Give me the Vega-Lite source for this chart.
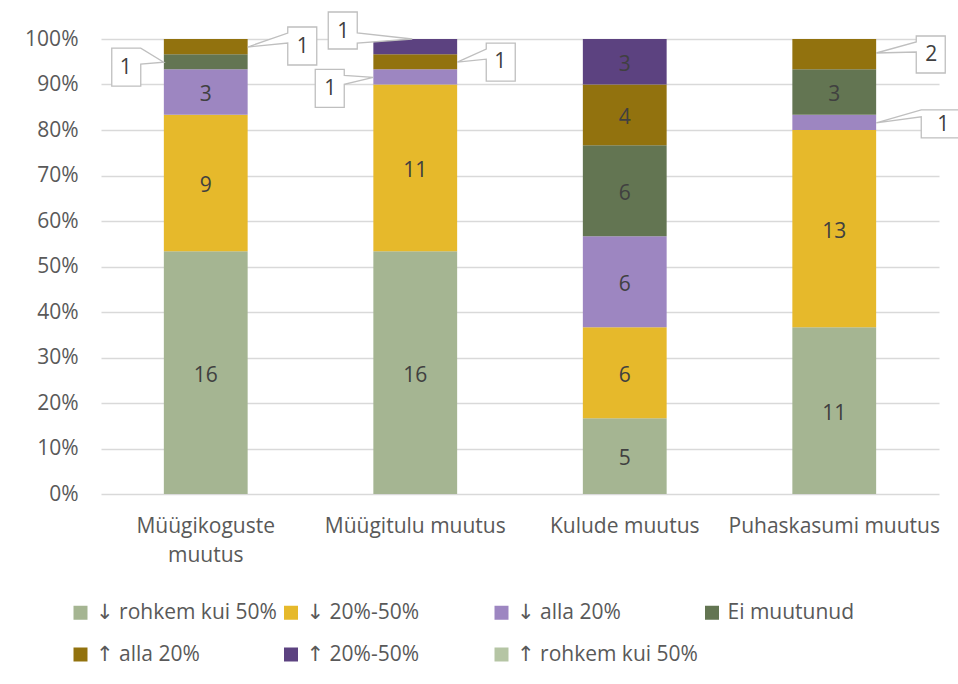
{
  "$schema": "https://vega.github.io/schema/vega-lite/v6.json",
  "width": 838,
  "height": 455,
  "autosize": {"type": "none"},
  "padding": {"left": 101, "top": 39, "right": 19, "bottom": 190},
  "background": "white",
  "config": {
    "font": "Open Sans",
    "view": {"stroke": null},
    "axisY": {
      "domain": false, "ticks": false, "grid": true, "gridColor": "#D9D9D9", "gridWidth": 1.3,
      "labelFontSize": 21, "labelColor": "#595959", "labelPadding": 23, "title": null
    }
  },
  "data": {
    "values": [
      {"cat": "Müügikoguste muutus", "series": "↓ rohkem kui 50%", "s": 1, "value": 16},
      {"cat": "Müügikoguste muutus", "series": "↓ 20%-50%", "s": 2, "value": 9},
      {"cat": "Müügikoguste muutus", "series": "↓ alla 20%", "s": 3, "value": 3},
      {"cat": "Müügikoguste muutus", "series": "Ei muutunud", "s": 4, "value": 1},
      {"cat": "Müügikoguste muutus", "series": "↑ alla 20%", "s": 5, "value": 1},
      {"cat": "Müügitulu muutus", "series": "↓ rohkem kui 50%", "s": 1, "value": 16},
      {"cat": "Müügitulu muutus", "series": "↓ 20%-50%", "s": 2, "value": 11},
      {"cat": "Müügitulu muutus", "series": "↓ alla 20%", "s": 3, "value": 1},
      {"cat": "Müügitulu muutus", "series": "↑ alla 20%", "s": 5, "value": 1},
      {"cat": "Müügitulu muutus", "series": "↑ 20%-50%", "s": 6, "value": 1},
      {"cat": "Kulude muutus", "series": "↓ rohkem kui 50%", "s": 1, "value": 5},
      {"cat": "Kulude muutus", "series": "↓ 20%-50%", "s": 2, "value": 6},
      {"cat": "Kulude muutus", "series": "↓ alla 20%", "s": 3, "value": 6},
      {"cat": "Kulude muutus", "series": "Ei muutunud", "s": 4, "value": 6},
      {"cat": "Kulude muutus", "series": "↑ alla 20%", "s": 5, "value": 4},
      {"cat": "Kulude muutus", "series": "↑ 20%-50%", "s": 6, "value": 3},
      {"cat": "Puhaskasumi muutus", "series": "↓ rohkem kui 50%", "s": 1, "value": 11},
      {"cat": "Puhaskasumi muutus", "series": "↓ 20%-50%", "s": 2, "value": 13},
      {"cat": "Puhaskasumi muutus", "series": "↓ alla 20%", "s": 3, "value": 1},
      {"cat": "Puhaskasumi muutus", "series": "Ei muutunud", "s": 4, "value": 3},
      {"cat": "Puhaskasumi muutus", "series": "↑ alla 20%", "s": 5, "value": 2}
    ]
  },
  "encoding": {
    "x": {
      "field": "cat", "type": "nominal",
      "sort": ["Müügikoguste muutus", "Müügitulu muutus", "Kulude muutus", "Puhaskasumi muutus"],
      "scale": {"paddingInner": 0.6, "paddingOuter": 0.3},
      "title": null,
      "axis": {
        "domain": false, "ticks": false, "labelAngle": 0, "labelPadding": 21,
        "labelFontSize": 21, "labelColor": "#595959", "labelLineHeight": 29, "labelLimit": 0,
        "labelBaseline": "top",
        "labelExpr": "datum.label == 'Müügikoguste muutus' ? ['Müügikoguste', 'muutus'] : datum.label"
      }
    }
  },
  "layer": [
    {
      "mark": {"type": "bar"},
      "encoding": {
        "y": {
          "field": "value", "type": "quantitative", "stack": "normalize",
          "scale": {"domain": [0, 1], "nice": false}, "title": null,
          "axis": {"values": [0, 0.1, 0.2, 0.3, 0.4, 0.5, 0.6, 0.7, 0.8, 0.9, 1], "format": ".0%"}
        },
        "order": {"field": "s", "type": "quantitative", "sort": "ascending"},
        "color": {
          "field": "series", "type": "nominal",
          "scale": {
            "domain": ["↓ rohkem kui 50%", "↓ 20%-50%", "↓ alla 20%", "Ei muutunud", "↑ alla 20%", "↑ 20%-50%", "↑ rohkem kui 50%"],
            "range": ["#A5B592", "#E6B92B", "#9D86C1", "#637552", "#92720E", "#5C4280", "#B5C5A4"]
          },
          "legend": {
            "orient": "none", "legendX": -31, "legendY": 563, "direction": "horizontal",
            "columns": 4, "gridAlign": "all", "columnPadding": 3.5, "rowPadding": 20,
            "symbolType": "square", "symbolSize": 196, "symbolStrokeWidth": 0,
            "labelFont": "Open Sans, DejaVu Sans",
            "labelFontSize": 21, "labelColor": "#595959", "labelOffset": 5, "labelLimit": 0,
            "title": null,
            "values": ["↓ rohkem kui 50%", "↓ 20%-50%", "↓ alla 20%", "Ei muutunud", "↑ alla 20%", "↑ 20%-50%", "↑ rohkem kui 50%"]
          }
        }
      }
    },
    {
      "mark": {"type": "text", "fontSize": 21, "fill": "#404040", "align": "center", "baseline": "middle", "dy": 3},
      "encoding": {
        "y": {"field": "value", "type": "quantitative", "stack": "normalize", "bandPosition": 0.5, "scale": {"domain": [0, 1], "nice": false}, "title": null},
        "order": {"field": "s", "type": "quantitative", "sort": "ascending"},
        "detail": {"field": "series", "type": "nominal"},
        "text": {"condition": {"test": "datum.value >= 3", "field": "value", "type": "quantitative"}, "value": ""}
      }
    },
    {
      "transform": [
        {"stack": "value", "groupby": ["cat"], "sort": [{"field": "s", "order": "ascending"}], "offset": "normalize", "as": ["lo", "hi"]},
        {"filter": "datum.cat == 'Müügikoguste muutus' && datum.series == 'Ei muutunud'"}
      ],
      "encoding": {"y": {"field": "hi", "type": "quantitative", "scale": {"domain": [0, 1], "nice": false}, "title": null}},
      "layer": [
        {"mark": {"type": "point", "shape": "M-94,-6H-65L-42,8L-65,10V32H-94Z", "size": 4, "filled": true, "fill": "white", "stroke": "#BFBFBF", "strokeWidth": 1.3, "opacity": 1}},
        {"mark": {"type": "text", "fontSize": 21, "fill": "#404040", "align": "center", "baseline": "middle", "dx": -80, "dy": 14}, "encoding": {"text": {"field": "value", "type": "quantitative"}}}
      ]
    },
    {
      "transform": [
        {"stack": "value", "groupby": ["cat"], "sort": [{"field": "s", "order": "ascending"}], "offset": "normalize", "as": ["lo", "hi"]},
        {"filter": "datum.cat == 'Müügikoguste muutus' && datum.series == '↑ alla 20%'"}
      ],
      "encoding": {"y": {"field": "hi", "type": "quantitative", "scale": {"domain": [0, 1], "nice": false}, "title": null}},
      "layer": [
        {"mark": {"type": "point", "shape": "M82,-12H111V26H82V4L42,8L82,-6Z", "size": 4, "filled": true, "fill": "white", "stroke": "#BFBFBF", "strokeWidth": 1.3, "opacity": 1}},
        {"mark": {"type": "text", "fontSize": 21, "fill": "#404040", "align": "center", "baseline": "middle", "dx": 97, "dy": 8}, "encoding": {"text": {"field": "value", "type": "quantitative"}}}
      ]
    },
    {
      "transform": [
        {"stack": "value", "groupby": ["cat"], "sort": [{"field": "s", "order": "ascending"}], "offset": "normalize", "as": ["lo", "hi"]},
        {"filter": "datum.cat == 'Müügitulu muutus' && datum.series == '↑ 20%-50%'"}
      ],
      "encoding": {"y": {"field": "hi", "type": "quantitative", "scale": {"domain": [0, 1], "nice": false}, "title": null}},
      "layer": [
        {"mark": {"type": "point", "shape": "M-87,-27H-58V-6L-3,0L-58,4V10H-87Z", "size": 4, "filled": true, "fill": "white", "stroke": "#BFBFBF", "strokeWidth": 1.3, "opacity": 1}},
        {"mark": {"type": "text", "fontSize": 21, "fill": "#404040", "align": "center", "baseline": "middle", "dx": -72, "dy": -7}, "encoding": {"text": {"field": "value", "type": "quantitative"}}}
      ]
    },
    {
      "transform": [
        {"stack": "value", "groupby": ["cat"], "sort": [{"field": "s", "order": "ascending"}], "offset": "normalize", "as": ["lo", "hi"]},
        {"filter": "datum.cat == 'Müügitulu muutus' && datum.series == '↑ alla 20%'"}
      ],
      "encoding": {"y": {"field": "hi", "type": "quantitative", "scale": {"domain": [0, 1], "nice": false}, "title": null}},
      "layer": [
        {"mark": {"type": "point", "shape": "M71,-11H100V27H71V5L42,8L71,-5Z", "size": 4, "filled": true, "fill": "white", "stroke": "#BFBFBF", "strokeWidth": 1.3, "opacity": 1}},
        {"mark": {"type": "text", "fontSize": 21, "fill": "#404040", "align": "center", "baseline": "middle", "dx": 85, "dy": 8}, "encoding": {"text": {"field": "value", "type": "quantitative"}}}
      ]
    },
    {
      "transform": [
        {"stack": "value", "groupby": ["cat"], "sort": [{"field": "s", "order": "ascending"}], "offset": "normalize", "as": ["lo", "hi"]},
        {"filter": "datum.cat == 'Müügitulu muutus' && datum.series == '↓ alla 20%'"}
      ],
      "encoding": {"y": {"field": "hi", "type": "quantitative", "scale": {"domain": [0, 1], "nice": false}, "title": null}},
      "layer": [
        {"mark": {"type": "point", "shape": "M-100,0H-71V6L-42,8L-71,15V38H-100Z", "size": 4, "filled": true, "fill": "white", "stroke": "#BFBFBF", "strokeWidth": 1.3, "opacity": 1}},
        {"mark": {"type": "text", "fontSize": 21, "fill": "#404040", "align": "center", "baseline": "middle", "dx": -85, "dy": 20}, "encoding": {"text": {"field": "value", "type": "quantitative"}}}
      ]
    },
    {
      "transform": [
        {"stack": "value", "groupby": ["cat"], "sort": [{"field": "s", "order": "ascending"}], "offset": "normalize", "as": ["lo", "hi"]},
        {"filter": "datum.cat == 'Puhaskasumi muutus' && datum.series == '↑ alla 20%'"}
      ],
      "encoding": {"y": {"field": "hi", "type": "quantitative", "scale": {"domain": [0, 1], "nice": false}, "title": null}},
      "layer": [
        {"mark": {"type": "point", "shape": "M82,-3H111V34H82V13L42,14L82,3Z", "size": 4, "filled": true, "fill": "white", "stroke": "#BFBFBF", "strokeWidth": 1.3, "opacity": 1}},
        {"mark": {"type": "text", "fontSize": 21, "fill": "#404040", "align": "center", "baseline": "middle", "dx": 97, "dy": 16}, "encoding": {"text": {"field": "value", "type": "quantitative"}}}
      ]
    },
    {
      "transform": [
        {"stack": "value", "groupby": ["cat"], "sort": [{"field": "s", "order": "ascending"}], "offset": "normalize", "as": ["lo", "hi"]},
        {"filter": "datum.cat == 'Puhaskasumi muutus' && datum.series == '↓ alla 20%'"}
      ],
      "encoding": {"y": {"field": "hi", "type": "quantitative", "scale": {"domain": [0, 1], "nice": false}, "title": null}},
      "layer": [
        {"mark": {"type": "point", "shape": "M87,-5H130V23H87V2L42,8Z", "size": 4, "filled": true, "fill": "white", "stroke": "#BFBFBF", "strokeWidth": 1.3, "opacity": 1}},
        {"mark": {"type": "text", "fontSize": 21, "fill": "#404040", "align": "center", "baseline": "middle", "dx": 109, "dy": 10}, "encoding": {"text": {"field": "value", "type": "quantitative"}}}
      ]
    }
  ]
}
